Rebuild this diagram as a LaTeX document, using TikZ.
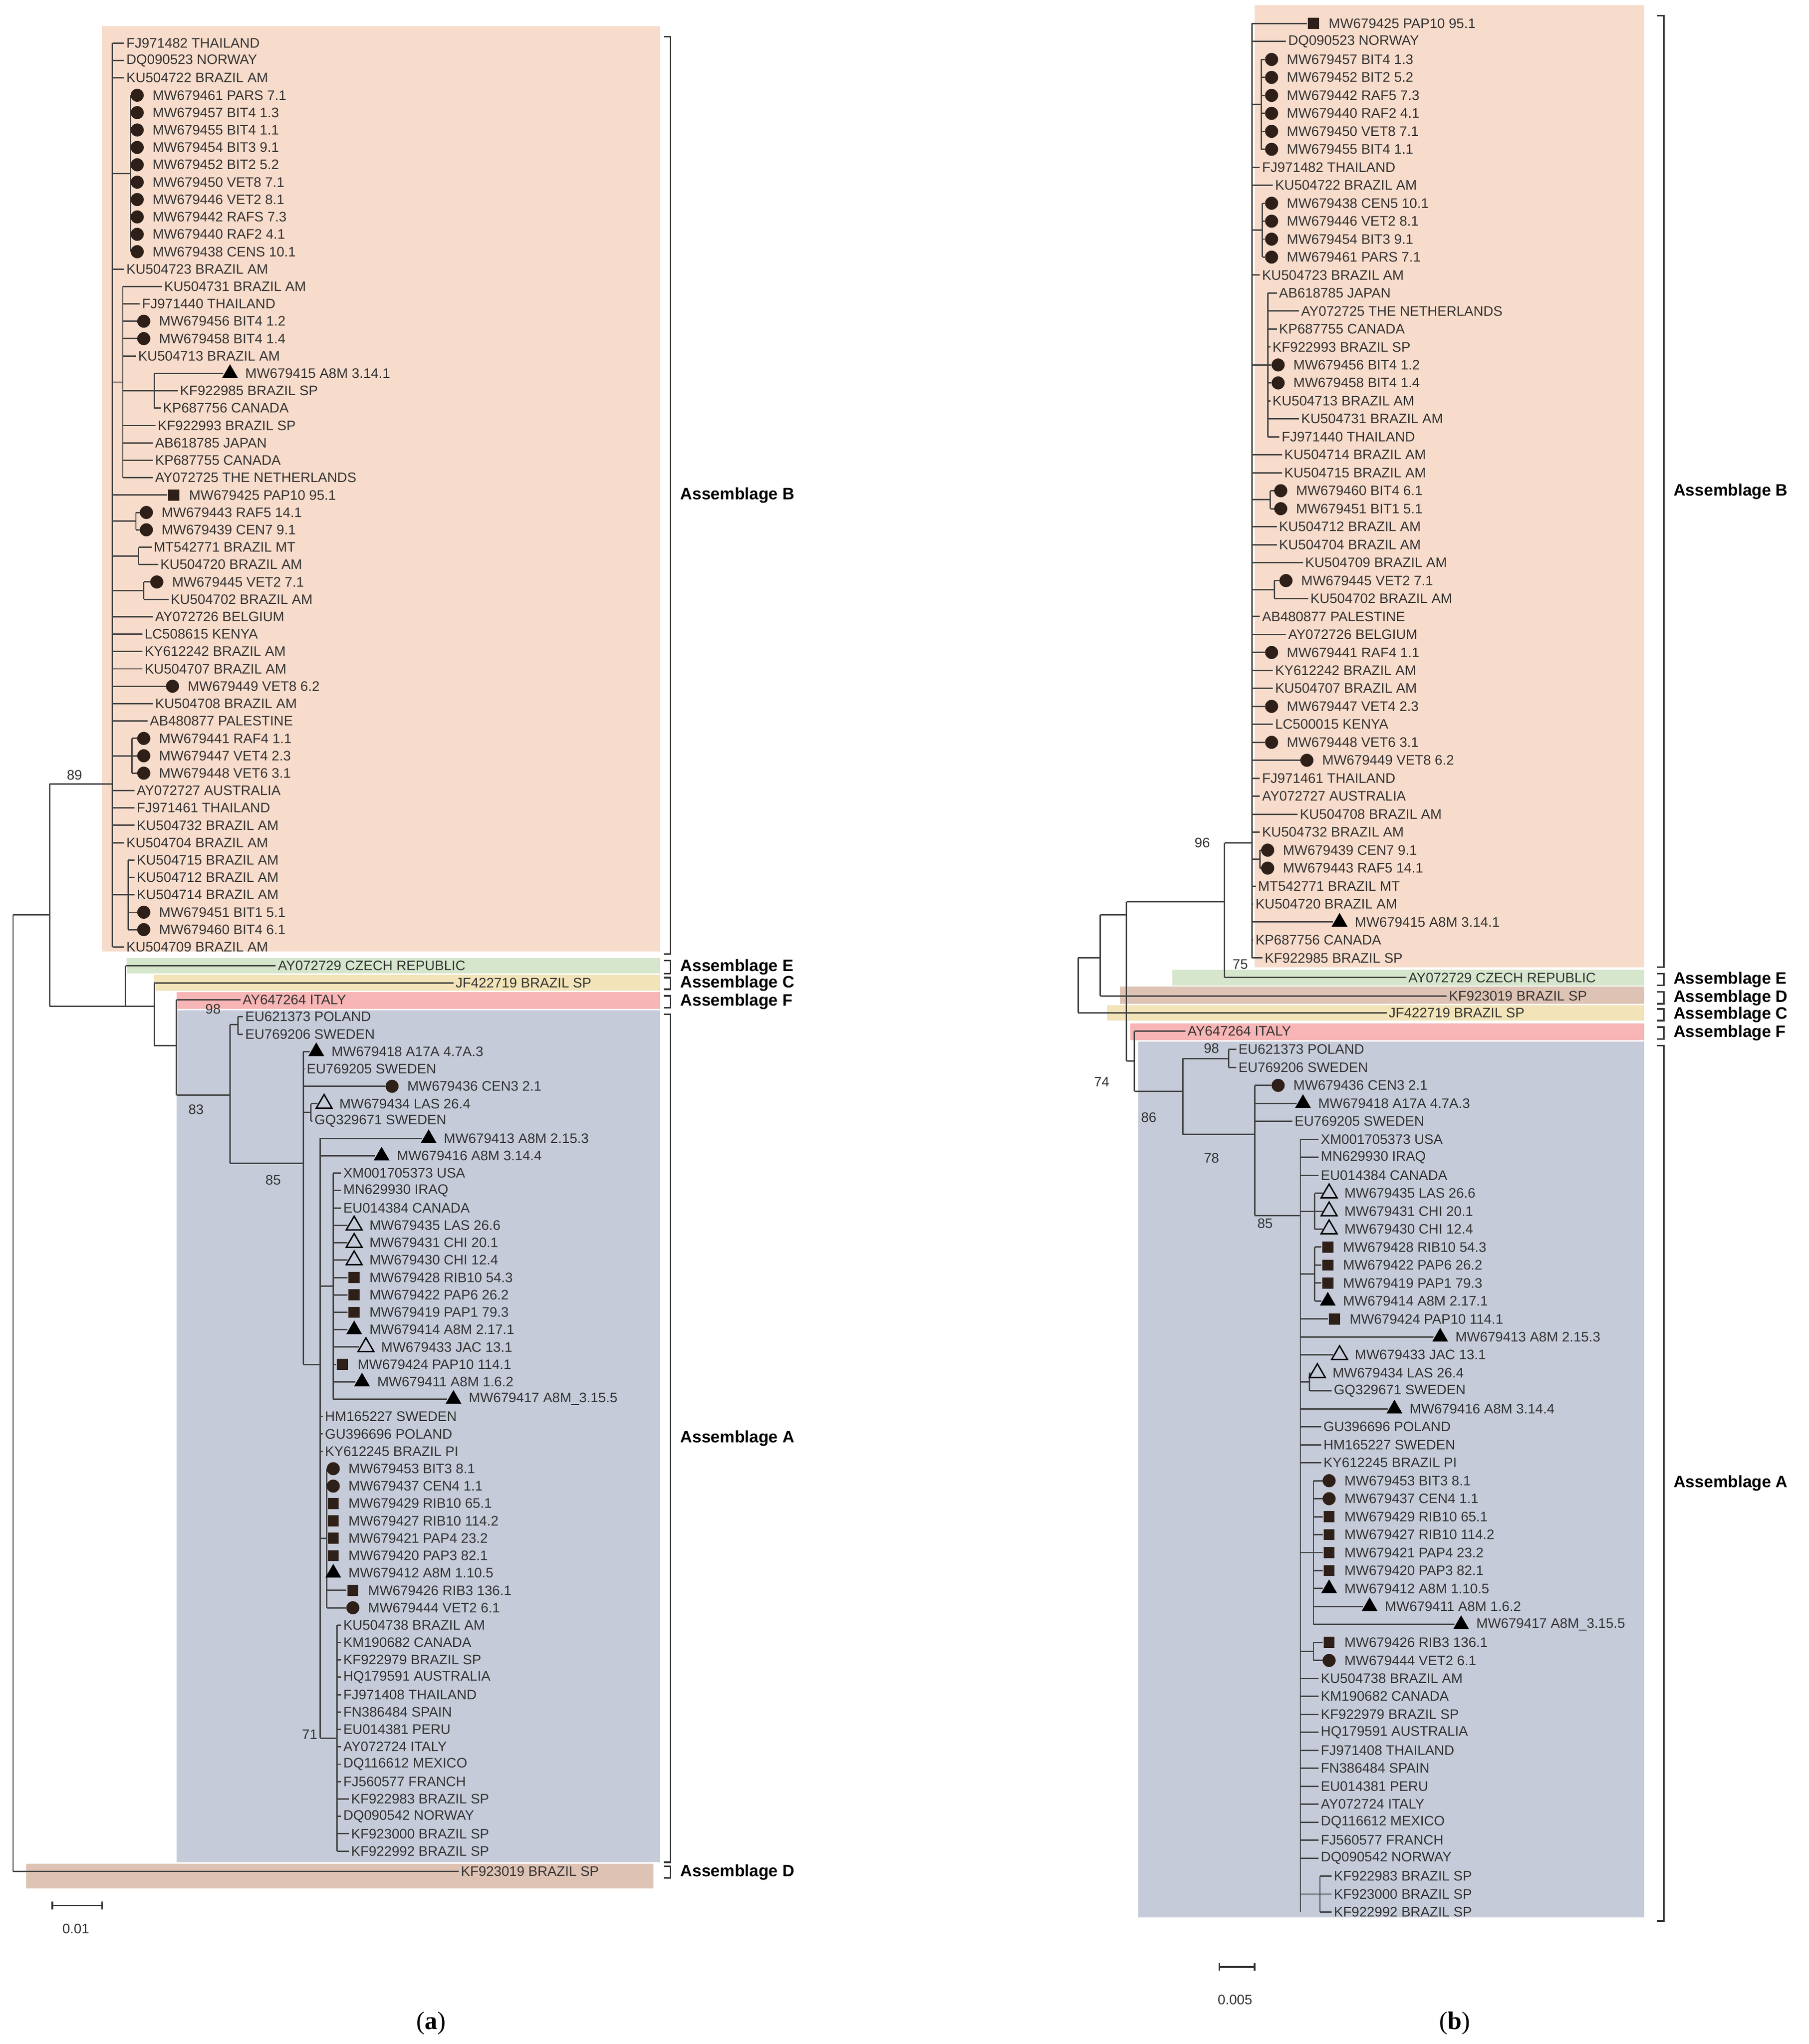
\documentclass[tikz,border=0pt]{standalone}
\usepackage{fontspec}
\setmainfont{Liberation Serif}
\newfontfamily\lsans{Liberation Sans}
\usetikzlibrary{shapes.geometric}
\definecolor{cB}{HTML}{F8DCCB}
\definecolor{cA}{HTML}{C6CBD9}
\definecolor{cE}{HTML}{D6E6CC}
\definecolor{cC}{HTML}{F2E4B8}
\definecolor{cF}{HTML}{F8B5B5}
\definecolor{cD}{HTML}{DEC3B4}
\definecolor{mkcol}{HTML}{2E2018}
\newcounter{nd}
\tikzset{
 br/.style={line width=0.3pt,draw=black!75},
 lab/.style={anchor=west,inner sep=0pt,font=\lsans\fontsize{3}{3}\selectfont,text=black!80},
 boot/.style={inner sep=0pt,font=\lsans\fontsize{3}{3}\selectfont,text=black!80},
 asm/.style={anchor=west,inner sep=0pt,font=\lsans\bfseries\fontsize{3.6}{4}\selectfont},
 mkc/.style={circle,fill=mkcol,minimum size=0.1cm,inner sep=0pt},
 mks/.style={rectangle,fill=mkcol,minimum size=0.085cm,inner sep=0pt},
 mkt/.style={regular polygon,regular polygon sides=3,fill=black,minimum size=0.14cm,inner sep=0pt},
 mko/.style={regular polygon,regular polygon sides=3,draw=black,line width=0.3pt,minimum size=0.14cm,inner sep=0pt},
 bk/.style={line width=0.35pt,draw=black!80},
}
\newcommand\Lf[4]{\draw[br] (#2,#1) -- (#3-1,#1); \node[lab] (n\arabic{nd}) at (#3,#1) {#4}; \stepcounter{nd}}
\newcommand\Lm[5]{\draw[br] (#2,#1) -- (#3-5,#1); \node[mk#4] (m\arabic{nd}) at (#3,#1) {}; \node[lab] (n\arabic{nd}) at (#3+11,#1) {#5}; \stepcounter{nd}}
\newcommand\Vt[3]{\draw[br] (#1,#2) -- (#1,#3);}
\newcommand\Hz[3]{\draw[br] (#2,#1) -- (#3,#1);}
\newcommand\Bk[4]{\draw[bk] (#1-5,#2) -- (#1,#2) -- (#1,#3) -- (#1-5,#3); \node[asm] (k\arabic{nd}) at (#1+7,{(#2+#3)/2}) {#4}; \stepcounter{nd}}
\def\yBa#1{33+#1*13.3}
\def\yAa#1{778+#1*13.3}
\def\yBb#1{18+#1*13.75}
\def\yAb#1{803+#1*13.75}
\begin{document}
\begin{tikzpicture}[x=0.01cm,y=-0.01cm]
\useasboundingbox[fill=white] (0,0) rectangle (1384,1564);
% backgrounds (a)
\fill[cB] (78,20) rectangle (505,728);
\fill[cE] (97,733) rectangle (505,745);
\fill[cC] (118,746) rectangle (505,758);
\fill[cF] (135,759) rectangle (505,772);
\fill[cA] (135,773) rectangle (505,1425);
\fill[cD] (20,1426) rectangle (500,1445);
% backgrounds (b)
\fill[cB] (960,4) rectangle (1258,740);
\fill[cE] (897,742) rectangle (1258,754);
\fill[cD] (857,755) rectangle (1258,768);
\fill[cC] (847,769) rectangle (1258,781);
\fill[cF] (865,783) rectangle (1258,796);
\fill[cA] (871,797) rectangle (1258,1467);
%%%%%%%%%%%%%%%% TREE A
\Vt{10}{700}{1432}
\Hz{700}{10}{38}
\Lf{1432}{10}{352}{KF923019 BRAZIL SP}
\Vt{38}{600}{770}
\Hz{600}{38}{86}
\Hz{770}{38}{96}
\node[boot] (b1) at (57,593) {89};
\Vt{86}{\yBa{0}}{\yBa{52}}
\Lf{\yBa{0}}{86}{96}{FJ971482 THAILAND}
\Lf{\yBa{1}}{86}{96}{DQ090523 NORWAY}
\Lf{\yBa{2}}{86}{96}{KU504722 BRAZIL AM}
\Vt{100}{\yBa{3}}{\yBa{12}}\Hz{\yBa{7.5}}{86}{100}
\Lm{\yBa{3}}{100}{105}{c}{MW679461 PARS 7.1}
\Lm{\yBa{4}}{100}{105}{c}{MW679457 BIT4 1.3}
\Lm{\yBa{5}}{100}{105}{c}{MW679455 BIT4 1.1}
\Lm{\yBa{6}}{100}{105}{c}{MW679454 BIT3 9.1}
\Lm{\yBa{7}}{100}{105}{c}{MW679452 BIT2 5.2}
\Lm{\yBa{8}}{100}{105}{c}{MW679450 VET8 7.1}
\Lm{\yBa{9}}{100}{105}{c}{MW679446 VET2 8.1}
\Lm{\yBa{10}}{100}{105}{c}{MW679442 RAFS 7.3}
\Lm{\yBa{11}}{100}{105}{c}{MW679440 RAF2 4.1}
\Lm{\yBa{12}}{100}{105}{c}{MW679438 CENS 10.1}
\Lf{\yBa{13}}{86}{96}{KU504723 BRAZIL AM}
\Vt{94}{\yBa{14}}{\yBa{25}}\Hz{\yBa{19.5}}{86}{94}
\Lf{\yBa{14}}{94}{125}{KU504731 BRAZIL AM}
\Lf{\yBa{15}}{94}{108}{FJ971440 THAILAND}
\Lm{\yBa{16}}{94}{110}{c}{MW679456 BIT4 1.2}
\Lm{\yBa{17}}{94}{110}{c}{MW679458 BIT4 1.4}
\Lf{\yBa{18}}{94}{105}{KU504713 BRAZIL AM}
\Vt{118}{\yBa{19}}{\yBa{21}}\Hz{\yBa{20}}{94}{118}
\Lm{\yBa{19}}{118}{176}{t}{MW679415 A8M 3.14.1}
\Lf{\yBa{20}}{118}{137}{KF922985 BRAZIL SP}
\Lf{\yBa{21}}{118}{124}{KP687756 CANADA}
\Lf{\yBa{22}}{94}{120}{KF922993 BRAZIL SP}
\Lf{\yBa{23}}{94}{118}{AB618785 JAPAN}
\Lf{\yBa{24}}{94}{118}{KP687755 CANADA}
\Lf{\yBa{25}}{94}{118}{AY072725 THE NETHERLANDS}
\Lm{\yBa{26}}{86}{133}{s}{MW679425 PAP10 95.1}
\Vt{104}{\yBa{27}}{\yBa{28}}\Hz{\yBa{27.5}}{86}{104}
\Lm{\yBa{27}}{104}{112}{c}{MW679443 RAF5 14.1}
\Lm{\yBa{28}}{104}{112}{c}{MW679439 CEN7 9.1}
\Vt{106}{\yBa{29}}{\yBa{30}}\Hz{\yBa{29.5}}{86}{106}
\Lf{\yBa{29}}{106}{117}{MT542771 BRAZIL MT}
\Lf{\yBa{30}}{106}{122}{KU504720 BRAZIL AM}
\Vt{110}{\yBa{31}}{\yBa{32}}\Hz{\yBa{31.5}}{86}{110}
\Lm{\yBa{31}}{110}{120}{c}{MW679445 VET2 7.1}
\Lf{\yBa{32}}{110}{130}{KU504702 BRAZIL AM}
\Lf{\yBa{33}}{86}{118}{AY072726 BELGIUM}
\Lf{\yBa{34}}{86}{110}{LC508615 KENYA}
\Lf{\yBa{35}}{86}{110}{KY612242 BRAZIL AM}
\Lf{\yBa{36}}{86}{110}{KU504707 BRAZIL AM}
\Lm{\yBa{37}}{86}{132}{c}{MW679449 VET8 6.2}
\Lf{\yBa{38}}{86}{118}{KU504708 BRAZIL AM}
\Lf{\yBa{39}}{86}{114}{AB480877 PALESTINE}
\Vt{101}{\yBa{40}}{\yBa{42}}\Hz{\yBa{41}}{86}{101}
\Lm{\yBa{40}}{101}{110}{c}{MW679441 RAF4 1.1}
\Lm{\yBa{41}}{101}{110}{c}{MW679447 VET4 2.3}
\Lm{\yBa{42}}{101}{110}{c}{MW679448 VET6 3.1}
\Lf{\yBa{43}}{86}{104}{AY072727 AUSTRALIA}
\Lf{\yBa{44}}{86}{104}{FJ971461 THAILAND}
\Lf{\yBa{45}}{86}{104}{KU504732 BRAZIL AM}
\Lf{\yBa{46}}{86}{96}{KU504704 BRAZIL AM}
\Vt{98}{\yBa{47}}{\yBa{51}}\Hz{\yBa{49}}{86}{98}
\Lf{\yBa{47}}{98}{104}{KU504715 BRAZIL AM}
\Lf{\yBa{48}}{98}{104}{KU504712 BRAZIL AM}
\Lf{\yBa{49}}{98}{104}{KU504714 BRAZIL AM}
\Lm{\yBa{50}}{98}{110}{c}{MW679451 BIT1 5.1}
\Lm{\yBa{51}}{98}{110}{c}{MW679460 BIT4 6.1}
\Lf{\yBa{52}}{86}{96}{KU504709 BRAZIL AM}
% E C F
\Vt{96}{739}{770}
\Lf{739}{96}{212}{AY072729 CZECH REPUBLIC}
\Hz{770}{96}{118}
\Vt{118}{752}{800}
\Lf{752}{118}{348}{JF422719 BRAZIL SP}
\Hz{800}{118}{135}
\Vt{135}{765}{838}
\Lf{765}{135}{185}{AY647264 ITALY}
\Hz{838}{135}{176}
\node[boot] (b2) at (163,772) {98};
\node[boot] (b3) at (150,849) {83};
\node[boot] (b4) at (209,903) {85};
\node[boot] (b5) at (237,1327) {71};
\Vt{176}{784}{890}
\Hz{784}{176}{182}
\Vt{182}{\yAa{0}}{\yAa{1}}
\Lf{\yAa{0}}{182}{187}{EU621373 POLAND}
\Lf{\yAa{1}}{182}{187}{EU769206 SWEDEN}
\Hz{890}{176}{232}
\Vt{232}{\yAa{2}}{\yAa{20}}
\Lm{\yAa{2}}{232}{242}{t}{MW679418 A17A 4.7A.3}
\Lf{\yAa{3}}{232}{234}{EU769205 SWEDEN}
\Lm{\yAa{4}}{232}{300}{c}{MW679436 CEN3 2.1}
\Vt{238}{\yAa{5}}{\yAa{6}}\Hz{\yAa{5.5}}{232}{238}
\Lm{\yAa{5}}{238}{248}{o}{MW679434 LAS 26.4}
\Lf{\yAa{6}}{238}{240}{GQ329671 SWEDEN}
\Hz{\yAa{20}}{232}{245}
\Vt{245}{\yAa{7}}{\yAa{41.5}}
\Lm{\yAa{7}}{245}{328}{t}{MW679413 A8M 2.15.3}
\Lm{\yAa{8}}{245}{292}{t}{MW679416 A8M 3.14.4}
\Vt{255}{\yAa{9}}{\yAa{22}}\Hz{\yAa{15.5}}{245}{255}
\Lf{\yAa{9}}{255}{262}{XM001705373 USA}
\Lf{\yAa{10}}{255}{262}{MN629930 IRAQ}
\Lf{\yAa{11}}{255}{262}{EU014384 CANADA}
\Lm{\yAa{12}}{255}{271}{o}{MW679435 LAS 26.6}
\Lm{\yAa{13}}{255}{271}{o}{MW679431 CHI 20.1}
\Lm{\yAa{14}}{255}{271}{o}{MW679430 CHI 12.4}
\Lm{\yAa{15}}{255}{271}{s}{MW679428 RIB10 54.3}
\Lm{\yAa{16}}{255}{271}{s}{MW679422 PAP6 26.2}
\Lm{\yAa{17}}{255}{271}{s}{MW679419 PAP1 79.3}
\Lm{\yAa{18}}{255}{271}{t}{MW679414 A8M 2.17.1}
\Lm{\yAa{19}}{255}{280}{o}{MW679433 JAC 13.1}
\Lm{\yAa{20}}{255}{262}{s}{MW679424 PAP10 114.1}
\Lm{\yAa{21}}{255}{277}{t}{MW679411 A8M 1.6.2}
\Lm{\yAa{22}}{255}{347}{t}{MW679417 A8M\_3.15.5}
\Lf{\yAa{23}}{245}{248}{HM165227 SWEDEN}
\Lf{\yAa{24}}{245}{248}{GU396696 POLAND}
\Lf{\yAa{25}}{245}{248}{KY612245 BRAZIL PI}
\Vt{250}{\yAa{26}}{\yAa{34}}\Hz{\yAa{30}}{245}{250}
\Lm{\yAa{26}}{250}{255}{c}{MW679453 BIT3 8.1}
\Lm{\yAa{27}}{250}{255}{c}{MW679437 CEN4 1.1}
\Lm{\yAa{28}}{250}{255}{s}{MW679429 RIB10 65.1}
\Lm{\yAa{29}}{250}{255}{s}{MW679427 RIB10 114.2}
\Lm{\yAa{30}}{250}{255}{s}{MW679421 PAP4 23.2}
\Lm{\yAa{31}}{250}{255}{s}{MW679420 PAP3 82.1}
\Lm{\yAa{32}}{250}{255}{t}{MW679412 A8M 1.10.5}
\Lm{\yAa{33}}{250}{270}{s}{MW679426 RIB3 136.1}
\Lm{\yAa{34}}{250}{270}{c}{MW679444 VET2 6.1}
\Vt{258}{\yAa{35}}{\yAa{48}}\Hz{\yAa{41.5}}{245}{258}
\Lf{\yAa{35}}{258}{262}{KU504738 BRAZIL AM}
\Lf{\yAa{36}}{258}{262}{KM190682 CANADA}
\Lf{\yAa{37}}{258}{262}{KF922979 BRAZIL SP}
\Lf{\yAa{38}}{258}{262}{HQ179591 AUSTRALIA}
\Lf{\yAa{39}}{258}{262}{FJ971408 THAILAND}
\Lf{\yAa{40}}{258}{262}{FN386484 SPAIN}
\Lf{\yAa{41}}{258}{262}{EU014381 PERU}
\Lf{\yAa{42}}{258}{262}{AY072724 ITALY}
\Lf{\yAa{43}}{258}{262}{DQ116612 MEXICO}
\Lf{\yAa{44}}{258}{262}{FJ560577 FRANCH}
\Lf{\yAa{45}}{258}{268}{KF922983 BRAZIL SP}
\Lf{\yAa{46}}{258}{262}{DQ090542 NORWAY}
\Lf{\yAa{47}}{258}{268}{KF923000 BRAZIL SP}
\Lf{\yAa{48}}{258}{268}{KF922992 BRAZIL SP}
% brackets (a)
\Bk{513}{28}{730}{Assemblage B}
\Bk{513}{735}{745}{Assemblage E}
\Bk{513}{748}{757}{Assemblage C}
\Bk{513}{762}{771}{Assemblage F}
\Bk{513}{776}{1425}{Assemblage A}
\Bk{513}{1428}{1437}{Assemblage D}
% scale (a)
\draw[bk] (40,1455) -- (40,1461) (40,1458) -- (78,1458) (78,1455) -- (78,1461);
\node[boot] (s1) at (58,1476) {0.01};
%%%%%%%%%%%%%%%% TREE B
\Vt{825}{733}{775}
\Hz{733}{825}{842}
\Lf{775}{825}{1062}{JF422719 BRAZIL SP}
\Vt{842}{700}{762}
\Lf{762}{842}{1108}{KF923019 BRAZIL SP}
\Hz{700}{842}{862}
\Vt{862}{690}{812}
\Hz{690}{862}{937}
\Vt{937}{645}{748}
\Hz{645}{937}{958}
\Lf{748}{937}{1077}{AY072729 CZECH REPUBLIC}
\node[boot] (b6) at (920,645) {96};
\node[boot] (b7) at (949,738) {75};
\Vt{958}{\yBb{0}}{\yBb{52}}
\Lm{\yBb{0}}{958}{1005}{s}{MW679425 PAP10 95.1}
\Lf{\yBb{1}}{958}{985}{DQ090523 NORWAY}
\Vt{965}{\yBb{2}}{\yBb{7}}\Hz{\yBb{4.5}}{958}{965}
\Lm{\yBb{2}}{965}{973}{c}{MW679457 BIT4 1.3}
\Lm{\yBb{3}}{965}{973}{c}{MW679452 BIT2 5.2}
\Lm{\yBb{4}}{965}{973}{c}{MW679442 RAF5 7.3}
\Lm{\yBb{5}}{965}{973}{c}{MW679440 RAF2 4.1}
\Lm{\yBb{6}}{965}{973}{c}{MW679450 VET8 7.1}
\Lm{\yBb{7}}{965}{973}{c}{MW679455 BIT4 1.1}
\Lf{\yBb{8}}{958}{965}{FJ971482 THAILAND}
\Lf{\yBb{9}}{958}{975}{KU504722 BRAZIL AM}
\Vt{966}{\yBb{10}}{\yBb{13}}\Hz{\yBb{11.5}}{958}{966}
\Lm{\yBb{10}}{966}{973}{c}{MW679438 CEN5 10.1}
\Lm{\yBb{11}}{966}{973}{c}{MW679446 VET2 8.1}
\Lm{\yBb{12}}{966}{973}{c}{MW679454 BIT3 9.1}
\Lm{\yBb{13}}{966}{973}{c}{MW679461 PARS 7.1}
\Lf{\yBb{14}}{958}{965}{KU504723 BRAZIL AM}
\Vt{970}{\yBb{15}}{\yBb{23}}\Hz{\yBb{19}}{958}{970}
\Lf{\yBb{15}}{970}{978}{AB618785 JAPAN}
\Lf{\yBb{16}}{970}{995}{AY072725 THE NETHERLANDS}
\Lf{\yBb{17}}{970}{978}{KP687755 CANADA}
\Lf{\yBb{18}}{970}{973}{KF922993 BRAZIL SP}
\Lm{\yBb{19}}{970}{978}{c}{MW679456 BIT4 1.2}
\Lm{\yBb{20}}{970}{978}{c}{MW679458 BIT4 1.4}
\Lf{\yBb{21}}{970}{973}{KU504713 BRAZIL AM}
\Lf{\yBb{22}}{970}{995}{KU504731 BRAZIL AM}
\Lf{\yBb{23}}{970}{980}{FJ971440 THAILAND}
\Lf{\yBb{24}}{958}{982}{KU504714 BRAZIL AM}
\Lf{\yBb{25}}{958}{982}{KU504715 BRAZIL AM}
\Vt{972}{\yBb{26}}{\yBb{27}}\Hz{\yBb{26.5}}{958}{972}
\Lm{\yBb{26}}{972}{980}{c}{MW679460 BIT4 6.1}
\Lm{\yBb{27}}{972}{980}{c}{MW679451 BIT1 5.1}
\Lf{\yBb{28}}{958}{978}{KU504712 BRAZIL AM}
\Lf{\yBb{29}}{958}{978}{KU504704 BRAZIL AM}
\Lf{\yBb{30}}{958}{998}{KU504709 BRAZIL AM}
\Vt{975}{\yBb{31}}{\yBb{32}}\Hz{\yBb{31.5}}{958}{975}
\Lm{\yBb{31}}{975}{984}{c}{MW679445 VET2 7.1}
\Lf{\yBb{32}}{975}{1002}{KU504702 BRAZIL AM}
\Lf{\yBb{33}}{958}{965}{AB480877 PALESTINE}
\Lf{\yBb{34}}{958}{985}{AY072726 BELGIUM}
\Lm{\yBb{35}}{958}{973}{c}{MW679441 RAF4 1.1}
\Lf{\yBb{36}}{958}{975}{KY612242 BRAZIL AM}
\Lf{\yBb{37}}{958}{975}{KU504707 BRAZIL AM}
\Lm{\yBb{38}}{958}{973}{c}{MW679447 VET4 2.3}
\Lf{\yBb{39}}{958}{975}{LC500015 KENYA}
\Lm{\yBb{40}}{958}{973}{c}{MW679448 VET6 3.1}
\Lm{\yBb{41}}{958}{1000}{c}{MW679449 VET8 6.2}
\Lf{\yBb{42}}{958}{965}{FJ971461 THAILAND}
\Lf{\yBb{43}}{958}{965}{AY072727 AUSTRALIA}
\Lf{\yBb{44}}{958}{994}{KU504708 BRAZIL AM}
\Lf{\yBb{45}}{958}{965}{KU504732 BRAZIL AM}
\Vt{964}{\yBb{46}}{\yBb{47}}\Hz{\yBb{46.5}}{958}{964}
\Lm{\yBb{46}}{964}{970}{c}{MW679439 CEN7 9.1}
\Lm{\yBb{47}}{964}{970}{c}{MW679443 RAF5 14.1}
\Lf{\yBb{48}}{958}{962}{MT542771 BRAZIL MT}
\Lf{\yBb{49}}{958}{960}{KU504720 BRAZIL AM}
\Lm{\yBb{50}}{958}{1025}{t}{MW679415 A8M 3.14.1}
\Lf{\yBb{51}}{958}{960}{KP687756 CANADA}
\Lf{\yBb{52}}{958}{967}{KF922985 BRAZIL SP}
% F + A
\Hz{812}{862}{868}
\Vt{868}{789}{835}
\Lf{789}{868}{908}{AY647264 ITALY}
\Hz{835}{868}{905}
\node[boot] (b8) at (843,828) {74};
\Vt{905}{810}{868}
\Hz{810}{905}{940}
\Vt{940}{\yAb{0}}{\yAb{1}}
\Lf{\yAb{0}}{940}{947}{EU621373 POLAND}
\Lf{\yAb{1}}{940}{947}{EU769206 SWEDEN}
\node[boot] (b9) at (927,802) {98};
\node[boot] (b10) at (879,855) {86};
\node[boot] (b11) at (927,886) {78};
\node[boot] (b12) at (968,936) {85};
\Hz{868}{905}{960}
\Vt{960}{\yAb{2}}{930}
\Lm{\yAb{2}}{960}{978}{c}{MW679436 CEN3 2.1}
\Lm{\yAb{3}}{960}{997}{t}{MW679418 A17A 4.7A.3}
\Lf{\yAb{4}}{960}{990}{EU769205 SWEDEN}
\Hz{930}{960}{995}
\Vt{995}{\yAb{5}}{\yAb{48}}
\Lf{\yAb{5}}{995}{1010}{XM001705373 USA}
\Lf{\yAb{6}}{995}{1010}{MN629930 IRAQ}
\Lf{\yAb{7}}{995}{1010}{EU014384 CANADA}
\Vt{1006}{\yAb{8}}{\yAb{10}}\Hz{\yAb{9}}{995}{1006}
\Lm{\yAb{8}}{1006}{1017}{o}{MW679435 LAS 26.6}
\Lm{\yAb{9}}{1006}{1017}{o}{MW679431 CHI 20.1}
\Lm{\yAb{10}}{1006}{1017}{o}{MW679430 CHI 12.4}
\Vt{1006}{\yAb{11}}{\yAb{14}}\Hz{\yAb{12.5}}{995}{1006}
\Lm{\yAb{11}}{1006}{1016}{s}{MW679428 RIB10 54.3}
\Lm{\yAb{12}}{1006}{1016}{s}{MW679422 PAP6 26.2}
\Lm{\yAb{13}}{1006}{1016}{s}{MW679419 PAP1 79.3}
\Lm{\yAb{14}}{1006}{1016}{t}{MW679414 A8M 2.17.1}
\Lm{\yAb{15}}{995}{1021}{s}{MW679424 PAP10 114.1}
\Lm{\yAb{16}}{995}{1102}{t}{MW679413 A8M 2.15.3}
\Lm{\yAb{17}}{995}{1025}{o}{MW679433 JAC 13.1}
\Vt{1002}{\yAb{18}}{\yAb{19}}\Hz{\yAb{18.5}}{995}{1002}
\Lm{\yAb{18}}{1002}{1008}{o}{MW679434 LAS 26.4}
\Lf{\yAb{19}}{1002}{1020}{GQ329671 SWEDEN}
\Lm{\yAb{20}}{995}{1067}{t}{MW679416 A8M 3.14.4}
\Lf{\yAb{21}}{995}{1012}{GU396696 POLAND}
\Lf{\yAb{22}}{995}{1012}{HM165227 SWEDEN}
\Lf{\yAb{23}}{995}{1012}{KY612245 BRAZIL PI}
\Vt{1005}{\yAb{24}}{\yAb{32}}\Hz{\yAb{28}}{995}{1005}
\Lm{\yAb{24}}{1005}{1017}{c}{MW679453 BIT3 8.1}
\Lm{\yAb{25}}{1005}{1017}{c}{MW679437 CEN4 1.1}
\Lm{\yAb{26}}{1005}{1017}{s}{MW679429 RIB10 65.1}
\Lm{\yAb{27}}{1005}{1017}{s}{MW679427 RIB10 114.2}
\Lm{\yAb{28}}{1005}{1017}{s}{MW679421 PAP4 23.2}
\Lm{\yAb{29}}{1005}{1017}{s}{MW679420 PAP3 82.1}
\Lm{\yAb{30}}{1005}{1017}{t}{MW679412 A8M 1.10.5}
\Lm{\yAb{31}}{1005}{1048}{t}{MW679411 A8M 1.6.2}
\Lm{\yAb{32}}{1005}{1118}{t}{MW679417 A8M\_3.15.5}
\Vt{1005}{\yAb{33}}{\yAb{34}}\Hz{\yAb{33.5}}{995}{1005}
\Lm{\yAb{33}}{1005}{1017}{s}{MW679426 RIB3 136.1}
\Lm{\yAb{34}}{1005}{1017}{c}{MW679444 VET2 6.1}
\Lf{\yAb{35}}{995}{1010}{KU504738 BRAZIL AM}
\Lf{\yAb{36}}{995}{1010}{KM190682 CANADA}
\Lf{\yAb{37}}{995}{1010}{KF922979 BRAZIL SP}
\Lf{\yAb{38}}{995}{1010}{HQ179591 AUSTRALIA}
\Lf{\yAb{39}}{995}{1010}{FJ971408 THAILAND}
\Lf{\yAb{40}}{995}{1010}{FN386484 SPAIN}
\Lf{\yAb{41}}{995}{1010}{EU014381 PERU}
\Lf{\yAb{42}}{995}{1010}{AY072724 ITALY}
\Lf{\yAb{43}}{995}{1010}{DQ116612 MEXICO}
\Lf{\yAb{44}}{995}{1010}{FJ560577 FRANCH}
\Lf{\yAb{45}}{995}{1010}{DQ090542 NORWAY}
\Vt{1010}{\yAb{46}}{\yAb{48}}\Hz{\yAb{47}}{995}{1010}
\Lf{\yAb{46}}{1010}{1020}{KF922983 BRAZIL SP}
\Lf{\yAb{47}}{1010}{1020}{KF923000 BRAZIL SP}
\Lf{\yAb{48}}{1010}{1020}{KF922992 BRAZIL SP}
% brackets (b)
\Bk{1273}{12}{740}{Assemblage B}
\Bk{1273}{745}{754}{Assemblage E}
\Bk{1273}{759}{768}{Assemblage D}
\Bk{1273}{772}{781}{Assemblage C}
\Bk{1273}{786}{795}{Assemblage F}
\Bk{1273}{800}{1470}{Assemblage A}
% scale (b)
\draw[bk] (933,1502) -- (933,1508) (933,1505) -- (960,1505) (960,1502) -- (960,1508);
\node[boot] (s2) at (945,1530) {0.005};
% captions
\node[font=\fontsize{5.5}{6}\selectfont,inner sep=0pt] (capa) at (330,1548) {(\textbf{a})};
\node[font=\fontsize{5.5}{6}\selectfont,inner sep=0pt] (capb) at (1113,1548) {(\textbf{b})};
\end{tikzpicture}
\end{document}
